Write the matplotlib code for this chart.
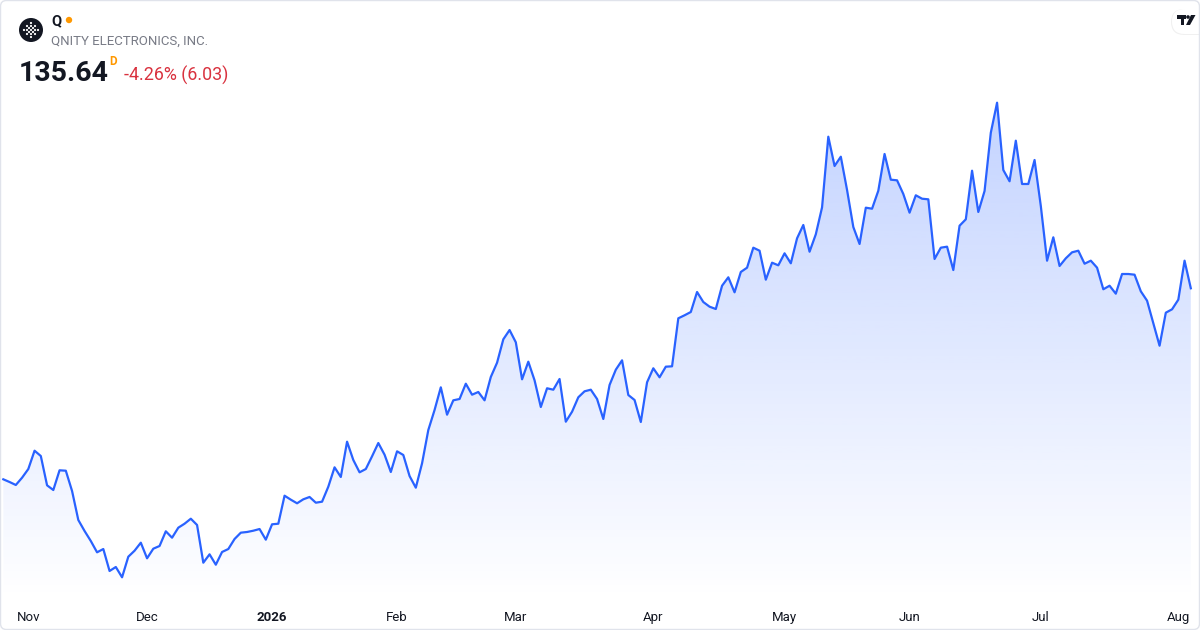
import numpy as np
import matplotlib
matplotlib.use("Agg")
import matplotlib.pyplot as plt
from matplotlib.patches import Polygon, Circle, FancyBboxPatch

plt.rcParams['font.family'] = ['Roboto', 'DejaVu Sans']

# ---------------- data ----------------
ticker = "Q"
company = "QNITY ELECTRONICS, INC."
last_price = "135.64"
change_text = "-4.26% (6.03)"
interval = "D"

prices = [
    93.90, 93.31, 92.66, 94.25, 96.15, 100.15, 98.99, 92.59, 91.56, 95.87,
    95.78, 91.35, 85.01, 82.61, 80.42, 77.95, 78.67, 73.87, 74.74, 72.49,
    76.99, 78.30, 80.05, 76.64, 78.74, 79.33, 82.54, 81.14, 83.33, 84.20,
    85.29, 83.92, 75.68, 77.51, 75.24, 78.02, 78.67, 80.86, 82.24, 82.39,
    82.67, 83.04, 80.71, 84.07, 84.20, 90.32, 89.45, 88.66, 89.53, 90.04,
    88.79, 89.01, 92.29, 96.52, 94.41, 102.12, 98.12, 95.43, 96.15, 98.93,
    101.83, 99.28, 95.50, 100.02, 99.21, 94.62, 92.07, 97.40, 104.67, 109.04,
    114.00, 108.02, 111.16, 111.45, 114.79, 112.39, 112.98, 111.16, 116.26, 119.38,
    124.49, 126.52, 123.84, 115.75, 119.60, 115.53, 109.70, 113.79, 113.48, 115.82,
    106.49, 108.67, 111.82, 113.13, 113.48, 111.45, 107.08, 114.51, 117.85, 119.90,
    112.32, 111.23, 106.42, 115.10, 118.16, 116.19, 118.51, 118.59, 129.08, 129.74,
    130.46, 134.83, 132.64, 131.62, 131.11, 136.20, 138.04, 134.76, 139.20, 140.14,
    144.51, 143.85, 137.52, 141.23, 140.66, 143.28, 141.10, 146.56, 149.47, 143.63,
    147.44, 153.33, 168.76, 162.36, 164.39, 157.11, 149.03, 145.32, 153.25, 153.03,
    156.96, 164.98, 159.37, 159.23, 156.24, 152.16, 155.96, 155.21, 155.08, 142.04,
    144.51, 144.73, 139.63, 149.31, 150.71, 161.33, 152.31, 156.90, 169.63, 176.19,
    161.48, 159.02, 167.89, 158.43, 158.43, 163.67, 153.62, 141.67, 146.78, 140.51,
    142.19, 143.50, 143.85, 141.01, 141.67, 140.14, 135.42, 136.20, 134.46, 138.76,
    138.76, 138.61, 134.98, 132.93, 127.99, 123.09, 130.31, 131.05, 133.15, 141.67,
    135.64,
]

month_tick_idx = [4, 23, 43, 63, 82, 104, 125, 145, 166, 188]
month_labels = ["Nov", "Dec", "2026", "Feb", "Mar", "Apr", "May", "Jun", "Jul", "Aug"]
bold_labels = ["2026"]

# ---------------- style ----------------
LINE = "#2962ff"
TEXT = "#131722"
GRAY = "#787b86"
RED = "#d9323f"
ORANGE = "#ff9800"

W, H = 1200, 630
fig = plt.figure(figsize=(W / 100, H / 100), dpi=100)
fig.patch.set_facecolor("white")

def P(x, y):
    return (x / 100.0, (H - y) / 100.0)

# main plot area (pixel rows 0..600)
ax = fig.add_axes([0, 30 / H, 1, 600 / H])
ax.set_facecolor("none")
x = np.arange(len(prices))
y = np.array(prices)
ax.set_xlim(-0.53, 191.47)
ymin, ymax = 67.53, 198.63
ax.set_ylim(ymin, ymax)

# gradient fill under the line
n = 256
alpha = np.linspace(0.0, 0.28, n).reshape(-1, 1)
rgba = np.zeros((n, 1, 4))
rgba[..., 0] = 41 / 255
rgba[..., 1] = 98 / 255
rgba[..., 2] = 255 / 255
rgba[..., 3] = alpha
im = ax.imshow(rgba, extent=[x[0], x[-1], ymin, y.max()], aspect="auto",
               origin="lower", zorder=1, interpolation="bilinear")
verts = np.column_stack([np.r_[x[0], x, x[-1]], np.r_[ymin, y, ymin]])
clip = Polygon(verts, closed=True, facecolor="none", edgecolor="none",
               transform=ax.transData)
ax.add_patch(clip)
im.set_clip_path(clip)

ax.plot(x, y, color=LINE, lw=1.6, zorder=3, solid_joinstyle="round")

for s in ax.spines.values():
    s.set_visible(False)
ax.set_yticks([])
ax.set_xticks(month_tick_idx)
ax.set_xticklabels(month_labels, fontsize=9.5, color=TEXT)
ax.tick_params(axis="x", length=0, pad=8)
for lbl in ax.get_xticklabels():
    if lbl.get_text() in bold_labels:
        lbl.set_fontweight("bold")

# ---------------- header ----------------
dt = fig.dpi_scale_trans
fig.patches.append(Circle(P(31, 30), 0.12, transform=dt, facecolor="#131722",
                          edgecolor="none", zorder=5))
dots = [(-4, -4), (0, -4), (4, -4), (-4, 0), (0, 0), (4, 0), (-4, 4), (0, 4), (4, 4),
        (-2, -2), (2, -2), (-2, 2), (2, 2), (0, -7), (0, 7), (-7, 0), (7, 0)]
for gx, gy in dots:
    fig.patches.append(Circle(P(31 + gx, 30 + gy), 0.011, transform=dt,
                              facecolor="white", edgecolor="none", zorder=6))
fig.patches.append(Circle(P(69, 20), 0.032, transform=dt, facecolor=ORANGE,
                          edgecolor="none", zorder=5))

fig.text(51 / W, 1 - 21 / H, ticker, fontsize=10.5, fontweight="bold", color=TEXT,
         ha="left", va="center")
fig.text(51 / W, 1 - 41 / H, company, fontsize=9.5, color=GRAY, ha="left", va="center")
fig.text(19 / W, 1 - 81 / H, last_price, fontsize=20.5, fontweight="bold", color=TEXT,
         ha="left", va="baseline")
fig.text(109 / W, 1 - 61.5 / H, interval, fontsize=8.5, fontweight="bold", color=ORANGE,
         ha="left", va="center")
fig.text(124 / W, 1 - 81 / H, change_text, fontsize=12.9, color=RED,
         ha="left", va="baseline")

# TradingView badge (top right)
fig.patches.append(FancyBboxPatch(P(1171, 35), 0.45, 0.26, boxstyle="round,pad=0,rounding_size=0.13",
                                  transform=dt, facecolor="#000000", alpha=0.06,
                                  edgecolor="none", zorder=7))
fig.patches.append(FancyBboxPatch(P(1172, 34), 0.45, 0.25, boxstyle="round,pad=0,rounding_size=0.125",
                                  transform=dt, facecolor="white", edgecolor="none", zorder=8))
fig.patches.append(Polygon([P(1177, 15), P(1186, 15), P(1186, 18.5), P(1184, 18.5),
                            P(1184, 25), P(1181, 25), P(1181, 18.5), P(1177, 18.5)],
                           closed=True, transform=dt, facecolor=TEXT, edgecolor="none", zorder=9))
fig.patches.append(Circle(P(1188, 17), 0.018, transform=dt, facecolor=TEXT,
                          edgecolor="none", zorder=9))
fig.patches.append(Polygon([P(1191, 15), P(1195.5, 15), P(1190, 25), P(1186, 25)],
                           closed=True, transform=dt, facecolor=TEXT, edgecolor="none", zorder=9))

# outer border
fig.patches.append(FancyBboxPatch((0.005, 0.005), W / 100 - 0.01, H / 100 - 0.01,
                                  boxstyle="round,pad=0,rounding_size=0.06", transform=dt,
                                  facecolor="none", edgecolor="#e0e3eb", lw=1.0, zorder=10))

fig.savefig("out.png", dpi=100, facecolor="white")
